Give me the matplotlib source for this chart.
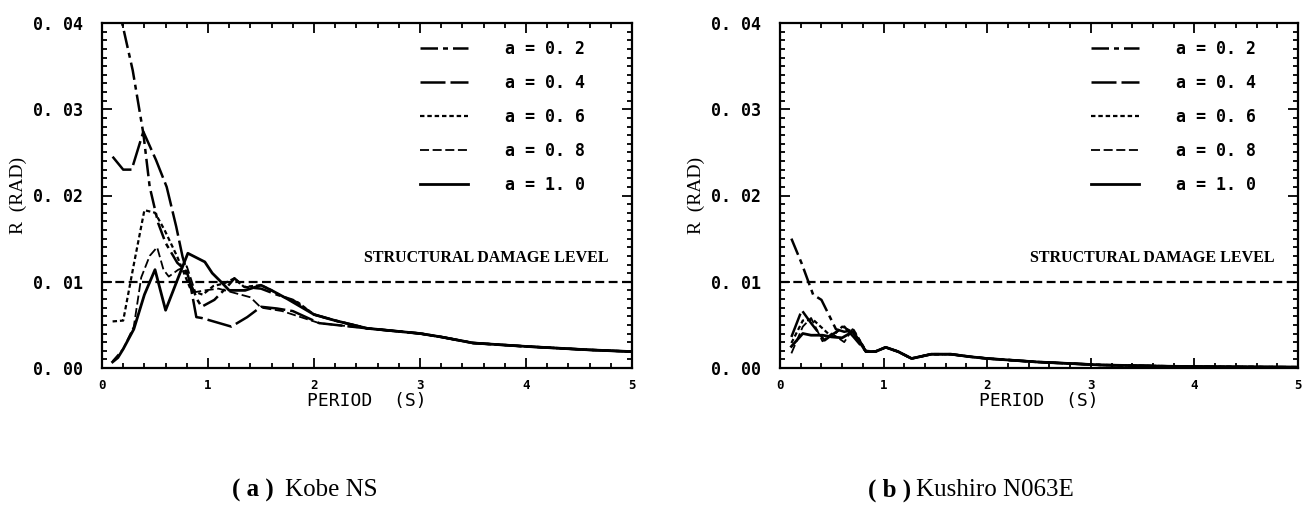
import matplotlib
matplotlib.use("Agg")
import matplotlib.pyplot as plt
from matplotlib.ticker import MultipleLocator, FuncFormatter

# Kobe NS (left), each series up to ~2.2 s, then shared tail
kobe_x02 = [0.1, 0.19, 0.29, 0.39, 0.45, 0.53, 0.6, 0.71, 0.78, 0.9, 0.94, 1.06, 1.18, 1.25, 1.34, 1.5, 1.65, 1.8, 2.0, 2.2]
kobe_y02 = [0.046, 0.040, 0.0345, 0.0272, 0.021, 0.0168, 0.0145, 0.0122, 0.0114, 0.0079, 0.0071, 0.0079, 0.0094, 0.0104, 0.0094, 0.0092, 0.0085, 0.0079, 0.0062, 0.0055]
kobe_x04 = [0.1, 0.2, 0.28, 0.39, 0.51, 0.61, 0.7, 0.76, 0.83, 0.89, 0.94, 1.22, 1.37, 1.5, 1.65, 1.8, 2.05, 2.2]
kobe_y04 = [0.0245, 0.023, 0.023, 0.0274, 0.0241, 0.021, 0.0164, 0.0129, 0.0099, 0.0059, 0.0058, 0.0048, 0.0059, 0.0071, 0.0069, 0.0066, 0.0052, 0.0050]
kobe_x06 = [0.1, 0.2, 0.3, 0.4, 0.5, 0.59, 0.71, 0.84, 0.95, 1.05, 1.15, 1.25, 1.34, 1.5, 1.6, 1.7, 1.85, 2.0, 2.2]
kobe_y06 = [0.0054, 0.0055, 0.012, 0.0183, 0.018, 0.016, 0.0129, 0.009, 0.0085, 0.0095, 0.0098, 0.0104, 0.0094, 0.0096, 0.009, 0.0083, 0.0076, 0.0062, 0.0055]
kobe_x08 = [0.1, 0.2, 0.3, 0.37, 0.45, 0.52, 0.58, 0.63, 0.72, 0.8, 0.88, 0.97, 1.1, 1.25, 1.4, 1.5, 1.7, 2.05, 2.2]
kobe_y08 = [0.0008, 0.0022, 0.0048, 0.0105, 0.013, 0.014, 0.0114, 0.0106, 0.0114, 0.0118, 0.0088, 0.009, 0.0092, 0.0087, 0.0082, 0.0070, 0.0066, 0.0052, 0.0050]
kobe_x10 = [0.1, 0.15, 0.2, 0.3, 0.4, 0.5, 0.6, 0.72, 0.81, 0.97, 1.04, 1.13, 1.2, 1.35, 1.5, 1.6, 1.75, 2.0, 2.2]
kobe_y10 = [0.0007, 0.0012, 0.0022, 0.0045, 0.0085, 0.0114, 0.0067, 0.0105, 0.0133, 0.0123, 0.011, 0.0099, 0.009, 0.009, 0.0096, 0.0090, 0.0080, 0.0062, 0.0055]
kobe_tail_x = [2.5, 3.0, 3.2, 3.5, 4.0, 4.6, 5.0]
kobe_tail_y = [0.0046, 0.0040, 0.0036, 0.0029, 0.0025, 0.0021, 0.0019]

# Kushiro N063E (right)
kush_x02 = [0.11, 0.21, 0.32, 0.4, 0.54, 0.62, 0.71, 0.83]
kush_y02 = [0.015, 0.0121, 0.0085, 0.0079, 0.0045, 0.0042, 0.0044, 0.0019]
kush_x04 = [0.11, 0.21, 0.3, 0.43, 0.52, 0.62, 0.71, 0.83]
kush_y04 = [0.0036, 0.0067, 0.0052, 0.0032, 0.0040, 0.0048, 0.0036, 0.0019]
kush_x06 = [0.11, 0.22, 0.32, 0.41, 0.5, 0.6, 0.73, 0.83]
kush_y06 = [0.0029, 0.0055, 0.0056, 0.0046, 0.0036, 0.0048, 0.0040, 0.0020]
kush_x08 = [0.11, 0.22, 0.3, 0.41, 0.5, 0.62, 0.7, 0.83]
kush_y08 = [0.0017, 0.0048, 0.0058, 0.0031, 0.0040, 0.0030, 0.0045, 0.0019]
kush_x10 = [0.11, 0.22, 0.3, 0.41, 0.5, 0.6, 0.7, 0.83]
kush_y10 = [0.0025, 0.0040, 0.0038, 0.0038, 0.0036, 0.0035, 0.0042, 0.0019]
kush_tail_x = [0.92, 1.02, 1.14, 1.27, 1.46, 1.65, 1.84, 2.0, 2.48, 3.1, 3.75, 4.2, 5.0]
kush_tail_y = [0.0019, 0.0024, 0.0019, 0.0011, 0.0016, 0.0016, 0.0013, 0.0011, 0.0007, 0.00035, 0.0002, 0.00015, 0.0001]

labels = ["a = 0. 2", "a = 0. 4", "a = 0. 6", "a = 0. 8", "a = 1. 0"]
damage_level = 0.01

styles = [
    dict(ls=(0, (7, 2, 2, 2)), lw=1.8),
    dict(ls=(0, (10, 2)), lw=1.8),
    dict(ls=(0, (2, 1.3)), lw=1.6),
    dict(ls=(0, (5, 2)), lw=1.3),
    dict(ls="-", lw=2.0),
]

mono = "DejaVu Sans Mono"
fig = plt.figure(figsize=(13.04, 5.17), dpi=100)
ax1 = fig.add_axes([102/1304, 1-368/517, 530/1304, 345/517])
ax2 = fig.add_axes([780/1304, 1-368/517, 518/1304, 345/517])


def draw(ax, xs, ys, tx, ty):
    for x, y, st, lab in zip(xs, ys, styles, labels):
        ax.plot(list(x) + tx, list(y) + ty, color="black", label=lab, **st)
    ax.axhline(damage_level, color="black", ls=(0, (4, 2)), lw=1.6)
    ax.text(0.955, 0.319, "STRUCTURAL DAMAGE LEVEL", transform=ax.transAxes, ha="right", va="center",
            fontsize=11.5, fontweight="bold", family="Liberation Serif")
    ax.set_xlim(0, 5)
    ax.set_ylim(0, 0.04)
    ax.xaxis.set_major_locator(MultipleLocator(1))
    ax.xaxis.set_minor_locator(MultipleLocator(0.2))
    ax.yaxis.set_major_locator(MultipleLocator(0.01))
    ax.yaxis.set_minor_locator(MultipleLocator(0.001))
    ax.yaxis.set_major_formatter(FuncFormatter(lambda v, p: f"{v:.2f}".replace(".", ". ")))
    ax.tick_params(which="both", direction="in", top=True, right=True, width=1.3)
    ax.tick_params(which="major", length=7)
    ax.tick_params(which="minor", length=3.5)
    ax.tick_params(axis="y", labelsize=12, pad=14)
    ax.tick_params(axis="x", labelsize=9, pad=8)
    for t in ax.get_yticklabels():
        t.set_fontweight("bold")
        t.set_family(mono)
    for t in ax.get_xticklabels():
        t.set_fontweight("bold")
        t.set_family(mono)
    for s in ax.spines.values():
        s.set_linewidth(1.6)
    ax.set_xlabel("PERIOD  (S)", family=mono, fontsize=13, labelpad=0)
    ax.set_ylabel("R  (RAD)", family="Liberation Serif", fontsize=14, labelpad=4)
    ax.legend(loc="upper left", bbox_to_anchor=(0.6, 0.95), frameon=False, handlelength=2.9,
              handletextpad=2.2, labelspacing=0.95, borderpad=0, borderaxespad=0,
              prop=dict(family=mono, weight="bold", size=12))


draw(ax1, [kobe_x02, kobe_x04, kobe_x06, kobe_x08, kobe_x10],
     [kobe_y02, kobe_y04, kobe_y06, kobe_y08, kobe_y10], kobe_tail_x, kobe_tail_y)
draw(ax2, [kush_x02, kush_x04, kush_x06, kush_x08, kush_x10],
     [kush_y02, kush_y04, kush_y06, kush_y08, kush_y10], kush_tail_x, kush_tail_y)

fig.text(232/1304, 1-490/517, "( a )", fontsize=18, fontweight="bold", family="Liberation Serif", va="center")
fig.text(285/1304, 1-490/517, "Kobe NS", fontsize=18, family="Liberation Serif", va="center")
fig.text(868/1304, 1-490/517, "( b )", fontsize=18, fontweight="bold", family="Liberation Serif", va="center")
fig.text(916/1304, 1-490/517, "Kushiro N063E", fontsize=18, family="Liberation Serif", va="center")

fig.savefig("out.png", dpi=100)
